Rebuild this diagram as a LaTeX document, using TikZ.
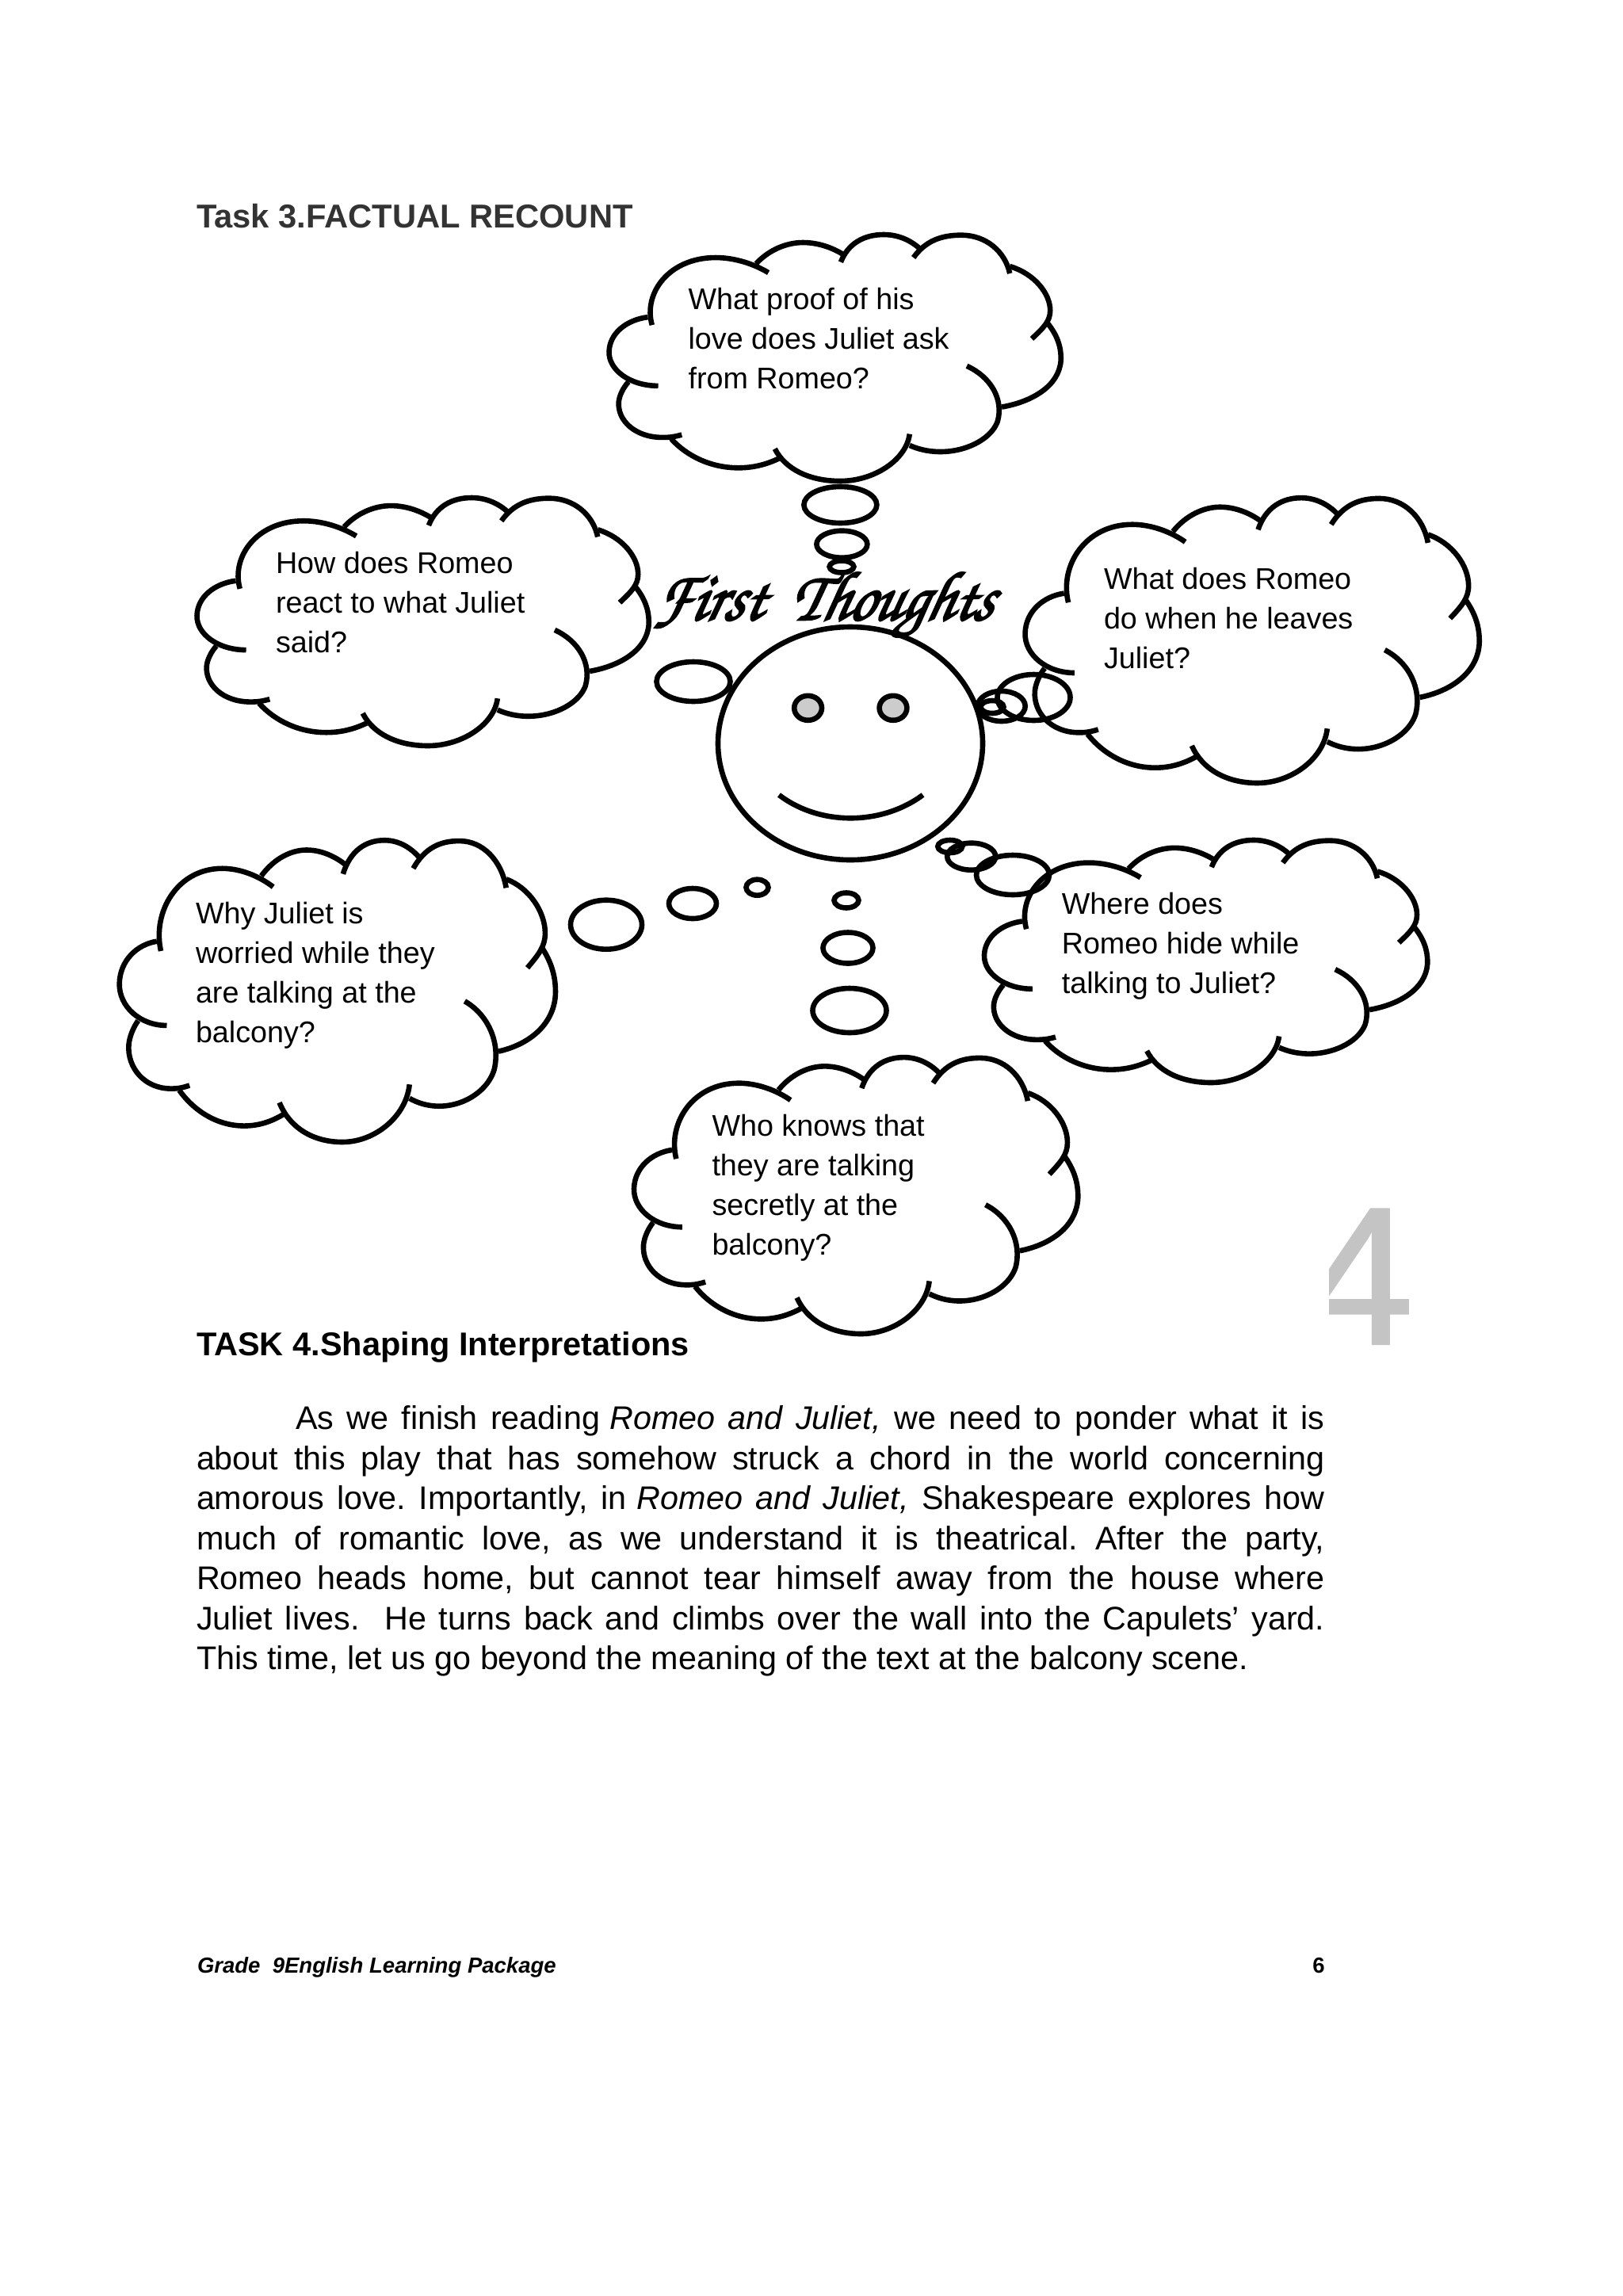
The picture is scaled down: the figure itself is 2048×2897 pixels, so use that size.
\documentclass[tikz,border=0pt]{standalone}
\usepackage{fontspec}
\setmainfont{Liberation Sans}
\newfontfamily\fourfont[FakeBold=0.9]{Liberation Sans}
\definecolor{headgray}{HTML}{333333}
\definecolor{fourgray}{HTML}{C4C4C4}
\definecolor{eyegray}{HTML}{CCCCCC}
\tikzset{
  inkline/.style={draw=black,line width=3.3pt},
  bubble/.style={inkline},
  cloudtext/.style={anchor=base west,inner sep=0pt,outer sep=0pt},
  plain/.style={anchor=base west,inner sep=0pt,outer sep=0pt}
}
\newcommand{\cloudshape}[4]{%
  \pgfmathsetmacro{\sxv}{#3/1405*0.5}%
  \pgfmathsetmacro{\syv}{#4/935*0.5}%
  \begin{scope}[shift={(#1,#2)},x=\sxv pt,y=-\syv pt,shift={(-65,-75)}]
  \draw[inkline] (203,420) .. controls (175,300) and (255,165) .. (400,165) .. controls (460,165) and (520,190) .. (563,222);
  \draw[inkline] (525,188) .. controls (565,135) and (620,108) .. (670,108) .. controls (720,108) and (765,130) .. (797,155);
  \draw[inkline] (787,182) .. controls (810,110) and (860,78) .. (920,78) .. controls (965,78) and (1005,100) .. (1035,135);
  \draw[inkline] (1012,165) .. controls (1050,100) and (1100,80) .. (1160,80) .. controls (1235,80) and (1295,140) .. (1310,225);
  \draw[inkline] (1310,198) .. controls (1385,225) and (1435,300) .. (1435,365) .. controls (1435,405) and (1415,430) .. (1378,472);
  \draw[inkline] (1425,410) .. controls (1455,455) and (1470,500) .. (1468,555) .. controls (1462,650) and (1380,710) .. (1285,730);
  \draw[inkline] (1177,575) .. controls (1250,615) and (1292,700) .. (1272,785) .. controls (1245,875) and (1110,935) .. (1000,875);
  \draw[inkline] (1000,832) .. controls (990,930) and (890,1010) .. (785,1010) .. controls (690,1010) and (615,965) .. (583,888);
  \draw[inkline] (595,925) .. controls (555,948) and (515,960) .. (470,960) .. controls (385,960) and (310,915) .. (262,850);
  \draw[inkline] (295,835) .. controls (265,845) and (250,845) .. (235,845) .. controls (150,845) and (95,780) .. (100,710) .. controls (102,685) and (115,655) .. (130,635);
  \draw[inkline] (222,650) .. controls (135,650) and (68,590) .. (70,520) .. controls (72,450) and (125,400) .. (190,390);
  \end{scope}}
\newcommand{\cloudlines}[1]{\parbox[t]{300pt}{\fontsize{18.85}{25}\selectfont\raggedright #1\par}}
\newcommand{\jline}[1]{\hbox to 711.75pt{#1}}
\begin{document}
\begin{tikzpicture}[x=0.5pt,y=-0.5pt]
\useasboundingbox (0,0) rectangle (2048,2897);
\fill[white] (0,0) rectangle (2048,2897);

% headings
\node[plain,text=headgray] (taskthree) at (248,287) {\fontsize{20.85}{25}\selectfont\bfseries Task 3.FACTUAL RECOUNT};
\node[plain] (taskfour) at (248,1710.5) {\fontsize{20.75}{25}\selectfont\bfseries TASK 4.Shaping Interpretations};

% clouds
\cloudshape{766.5}{295}{573}{312}
\cloudshape{246.5}{627}{573}{314}
\cloudshape{1291.5}{627}{576}{361}
\cloudshape{148.7}{1059}{553}{382}
\cloudshape{1240}{1059}{562}{307}
\cloudshape{798}{1333}{563}{350}

\node[cloudtext] (qtop) at (868.6,390) {\cloudlines{What proof of his\\love does Juliet ask\\from Romeo?}};
\node[cloudtext] (qleft) at (348,723.5) {\cloudlines{How does Romeo\\react to what Juliet\\said?}};
\node[cloudtext] (qright) at (1393,743.5) {\cloudlines{What does Romeo\\do when he leaves\\Juliet?}};
\node[cloudtext] (qlowleft) at (247,1165) {\cloudlines{Why Juliet is\\worried while they\\are talking at the\\balcony?}};
\node[cloudtext] (qlowright) at (1339.8,1153.5) {\cloudlines{Where does\\Romeo hide while\\talking to Juliet?}};
\node[cloudtext] (qbottom) at (898.5,1433.5) {\cloudlines{Who knows that\\they are talking\\secretly at the\\balcony?}};

% thought bubbles
\draw[bubble] (1060.4,637) ellipse (46 and 23);
\draw[bubble] (1062.4,686.7) ellipse (32 and 17);
\draw[bubble] (1062,715) ellipse (15.4 and 7.5);
\draw[bubble] (875,860) ellipse (46.5 and 25);
\draw[bubble] (1304.5,880) ellipse (46 and 29);
\draw[bubble] (1263.7,891) ellipse (30 and 19);
\draw[bubble] (1252,892) ellipse (14.5 and 8);
\draw[bubble] (1198.8,1068) ellipse (15.5 and 8);
\draw[bubble] (1225.7,1080.7) ellipse (30.5 and 17);
\draw[bubble] (1278,1104) ellipse (46 and 25);
\draw[bubble] (765,1166.7) ellipse (45 and 31);
\draw[bubble] (874,1140) ellipse (30 and 19);
\draw[bubble] (955.5,1119.7) ellipse (14 and 10);
\draw[bubble] (1068,1136) ellipse (15.5 and 9.5);
\draw[bubble] (1070,1196) ellipse (31.5 and 19.5);
\draw[bubble] (1072,1275) ellipse (46.5 and 28);

% face
\draw[inkline] (1073,938) ellipse (167 and 147);
\draw[inkline,fill=eyegray] (1019.6,893.3) ellipse (17.4 and 15.5);
\draw[inkline,fill=eyegray] (1127,893.3) ellipse (17.4 and 15.5);
\draw[inkline] (983,1003) .. controls (1034,1042) and (1112,1042) .. (1164.5,1003);

% title
\node[plain,xscale=0.88,xslant=0.28,transform shape] (title) at (824,782)
  {\fontsize{44}{50}\usefont{OT1}{pzc}{mb}{it}\special{pdf:code q 2 Tr 1.3 w}First\ \ Thoughts\special{pdf:code Q}};

% big gray digit
\begin{scope}
\clip (1677,1500) rectangle (1800,1710);
\node[plain,text=fourgray] (bigfour) at (1646,1696) {\fontsize{124}{130}\fourfont 4};
\end{scope}

% body
\node[plain] (body) at (248,1803.5) {\parbox[t]{711.75pt}{\fontsize{20.65}{25.25}\selectfont\frenchspacing
\jline{\hskip 62.5pt As we finish reading\hskip 0.3em\textit{Romeo and Juliet,} we need to ponder what it is}
\jline{about this play that has somehow struck a chord in the world concerning}
\jline{amorous love. Importantly, in\hskip 0.33em\textit{Romeo and Juliet,} Shakespeare explores how}
\jline{much of romantic love, as we understand it is theatrical. After the party,}
\jline{Romeo heads home, but cannot tear himself away from the house where}
\jline{Juliet lives.\ \ He turns back and climbs over the wall into the Capulets’ yard.}
\hbox{This time, let us go beyond the meaning of the text at the balcony scene.}
\par}};

% footer
\node[plain] (footer) at (249,2489) {\fontsize{13.76}{18}\selectfont\bfseries\itshape Grade\ \ 9English Learning Package};
\node[anchor=base east,inner sep=0pt] (pageno) at (1672,2489) {\fontsize{13.76}{18}\selectfont\bfseries 6};
\end{tikzpicture}
\end{document}
